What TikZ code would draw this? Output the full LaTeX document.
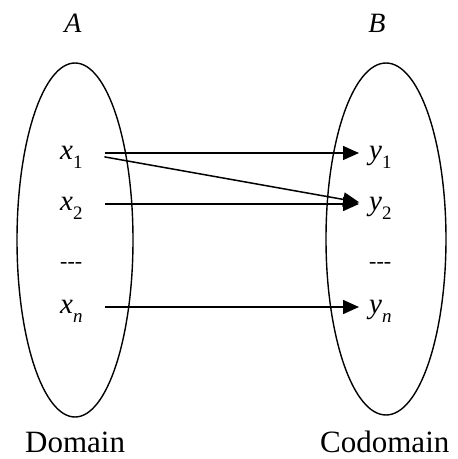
\documentclass[tikz,border=0pt]{standalone}
\usepackage{fontspec}
\setmainfont{Liberation Serif}
\usetikzlibrary{arrows.meta}
\newcommand{\vsub}[2]{\textit{#1}\raisebox{-0.28em}{\fontsize{19}{19}\selectfont #2}}
\begin{document}
\begin{tikzpicture}[x=1pt,y=1pt,
  lbl/.style={font=\fontsize{29}{31}\selectfont, inner sep=0pt, anchor=base west, text height=20pt, text depth=6pt},
  dots/.style={font=\fontsize{22}{24}\selectfont, inner sep=0pt, anchor=base west},
  setname/.style={font=\fontsize{28}{30}\selectfont\itshape, inner sep=0pt, anchor=base},
  capt/.style={font=\fontsize{31}{34}\selectfont, inner sep=0pt, anchor=base west},
  setshape/.style={draw, line width=1.4pt},
  map/.style={line width=1.5pt, -{Triangle[length=16pt,width=14pt]}, shorten <=22pt, shorten >=10pt}]
\useasboundingbox (0,0) rectangle (458,459);
\draw[setshape] (75,219) ellipse [x radius=58, y radius=177];
\draw[setshape] (386,220) ellipse [x radius=60, y radius=176];
\node[setname] (A) at (73,426) {A};
\node[setname] (B) at (377,426) {B};
\node[lbl] (x1) at (60,299) {\vsub{x}{1}};
\node[lbl] (x2) at (60,248) {\vsub{x}{2}};
\node[dots] (xd) at (60,190) {{-}{-}{-}};
\node[lbl] (xn) at (60,145) {\vsub{x}{\textit{n}}};
\node[lbl] (y1) at (369,299) {\vsub{y}{1}};
\node[lbl] (y2) at (369,248) {\vsub{y}{2}};
\node[dots] (yd) at (369,190) {{-}{-}{-}};
\node[lbl] (yn) at (369,145) {\vsub{y}{\textit{n}}};
\node[capt] (dom) at (25,6) {Domain};
\node[capt] (cod) at (320,6) {Codomain};
\draw[map] (x1.east) -- (y1.west);
\draw[map] (x1.east) -- (y2.west);
\draw[map] (x2.east) -- (y2.west);
\draw[map] (xn.east) -- (yn.west);
\end{tikzpicture}
\end{document}
